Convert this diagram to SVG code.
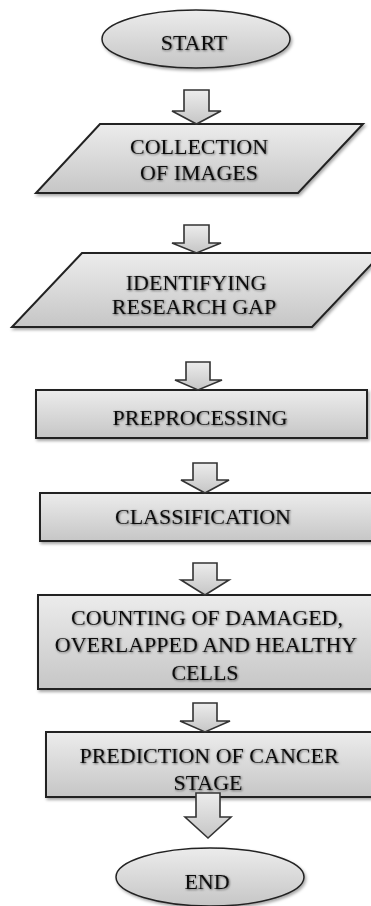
<svg xmlns="http://www.w3.org/2000/svg" width="371" height="906" viewBox="0 0 371 906">
<defs>
<linearGradient id="g" x1="0" y1="0" x2="0" y2="1">
<stop offset="0" stop-color="#ececec"/>
<stop offset="1" stop-color="#c6c6c6"/>
</linearGradient>
<filter id="sh" x="-10%" y="-20%" width="130%" height="150%">
<feDropShadow dx="1.5" dy="2" stdDeviation="1.5" flood-color="#000" flood-opacity="0.35"/>
</filter>
<filter id="tsh" x="-10%" y="-30%" width="120%" height="160%">
<feDropShadow dx="0.8" dy="0.8" stdDeviation="0.9" flood-color="#000" flood-opacity="0.6"/>
</filter>
</defs>
<style>
.s{fill:url(#g);stroke:#222;stroke-width:2;filter:url(#sh)}
.e{fill:url(#g);stroke:#222;stroke-width:1.5;filter:url(#sh)}
.a{fill:url(#g);stroke:#333;stroke-width:1.6;stroke-linejoin:miter}
.t{font-family:"Liberation Serif","Times New Roman",serif;font-size:22px;fill:#111;text-anchor:middle;filter:url(#tsh)}
</style>
<rect width="371" height="906" fill="#fff"/>
<g id="start">
<ellipse class="e" cx="196" cy="39" rx="94" ry="29"/>
<text class="t" x="194" y="50">START</text>
</g>
<g id="collection">
<polygon class="s" points="100,124 363,124 298,193 36,193"/>
<text class="t" x="199" y="154">COLLECTION</text>
<text class="t" x="199" y="180">OF IMAGES</text>
</g>
<g id="research-gap">
<polygon class="s" points="82,253 382,253 312,327 12,327"/>
<text class="t" x="196" y="290">IDENTIFYING</text>
<text class="t" x="194" y="314">RESEARCH GAP</text>
</g>
<g id="preprocessing">
<rect class="s" x="36" y="390" width="331" height="48"/>
<text class="t" x="200" y="425">PREPROCESSING</text>
</g>
<g id="classification">
<rect class="s" x="40" y="493" width="345" height="48"/>
<text class="t" x="203" y="524">CLASSIFICATION</text>
</g>
<g id="counting">
<rect class="s" x="38" y="595" width="345" height="94"/>
<text class="t" x="207" y="625">COUNTING OF DAMAGED,</text>
<text class="t" x="206" y="652">OVERLAPPED AND HEALTHY</text>
<text class="t" x="205" y="680">CELLS</text>
</g>
<g id="prediction">
<rect class="s" x="46" y="732" width="340" height="65"/>
<text class="t" x="209" y="763">PREDICTION OF CANCER</text>
<text class="t" x="208" y="790">STAGE</text>
</g>
<g id="end">
<ellipse class="e" cx="210" cy="877" rx="94" ry="29"/>
<text class="t" x="207" y="889">END</text>
</g>
<g id="connectors">
<polygon class="a" points="184,90 209,90 209,111 221,111 196.5,124 172,111 184,111"/>
<polygon class="a" points="184,225 209,225 209,243 221,243 196.5,253 172,243 184,243"/>
<polygon class="a" points="186,362 210,362 210,380 222,380 198,390 175,380 186,380"/>
<polygon class="a" points="193,463 217,463 217,480 229,480 205,493 181,480 193,480"/>
<polygon class="a" points="193,563 217,563 217,580 229,580 205,595 181,580 193,580"/>
<polygon class="a" points="193,703 217,703 217,721 230,721 205,732 180,721 193,721"/>
<polygon class="a" points="196,793 220,793 220,817 231,817 208,838 185,817 196,817"/>
</g>
</svg>
